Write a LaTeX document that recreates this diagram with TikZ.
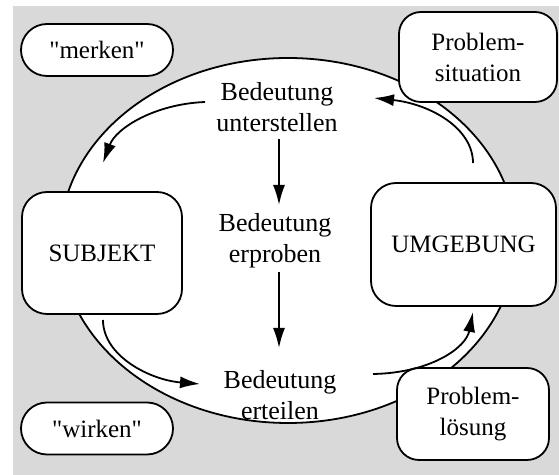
\documentclass[tikz,border=0pt]{standalone}
\usepackage{fontspec}
\setmainfont{Liberation Serif}[Ligatures=TeXOff]
\usetikzlibrary{arrows.meta,shapes.geometric}

\definecolor{panelgray}{HTML}{D9D9D9}

\tikzset{
  every node/.style={font=\fontsize{12.5}{15.5}\selectfont, align=center, inner sep=0pt},
  pill/.style={draw, fill=white, line width=0.9pt, rounded corners=13pt,
               minimum width=76pt, minimum height=26pt},
  agent/.style={draw, fill=white, line width=0.9pt, rounded corners=12.5pt},
  situation/.style={draw, fill=white, line width=0.9pt, rounded corners=11pt},
  flow/.style={line width=0.9pt, -{Latex[length=10pt,width=6pt]}},
  phase/.style={font=\fontsize{13}{15.5}\selectfont}
}

\begin{document}
\begin{tikzpicture}[x=0.5pt,y=-0.5pt]
  \useasboundingbox (0,0) rectangle (559,475);
  \fill[panelgray] (13,6) rectangle (559,475);

  % central field of meaning
  \node[ellipse, draw, fill=white, line width=0.9pt,
        minimum width=228pt, minimum height=182.5pt] (field) at (288,240.5) {};

  % boxes on and around the field
  \node[pill] (merken) at (97,50) {"merken"};
  \node[pill] (wirken) at (97,428.5) {"wirken"};
  \node[agent, minimum width=80pt, minimum height=61pt] (subjekt) at (102,253) {SUBJEKT};
  \node[agent, minimum width=92.5pt, minimum height=61.5pt] (umgebung) at (463.5,244.5) {UMGEBUNG};
  \node[situation, minimum width=79pt, minimum height=45pt] (psit) at (478,57) {Problem-\\situation};
  \node[situation, minimum width=76pt, minimum height=46pt] (ploes) at (473,414) {Problem-\\lösung};

  % phases of meaning
  \node[phase] (unterstellen) at (277,107) {Bedeutung\\unterstellen};
  \node[phase] (erproben) at (275,241) {Bedeutung\\erproben};
  \node[phase] (erteilen) at (280,395) {Bedeutung\\erteilen};

  % arrow end points
  \coordinate (a1s) at (205,102);
  \coordinate (a1e) at (103,163);
  \coordinate (a2s) at (473,163);
  \coordinate (a2e) at (374,98);
  \coordinate (a5s) at (103,320);
  \coordinate (a5e) at (200,384);
  \coordinate (a6s) at (373,374);
  \coordinate (a6e) at (473,312);
  \coordinate (v1s) at (279,139);
  \coordinate (v1e) at (279,205);
  \coordinate (v2s) at (279,272);
  \coordinate (v2e) at (279,348);

  \draw[flow] (v1s) -- (v1e);
  \draw[flow] (v2s) -- (v2e);
  \draw[flow] (a1s) .. controls (155,104) and (116,128) .. (a1e);
  \draw[flow] (a2s) .. controls (473,128) and (430,104) .. (a2e);
  \draw[flow] (a5s) .. controls (103,356) and (150,380) .. (a5e);
  \draw[flow] (a6s) .. controls (430,373) and (466,348) .. (a6e);
\end{tikzpicture}
\end{document}
